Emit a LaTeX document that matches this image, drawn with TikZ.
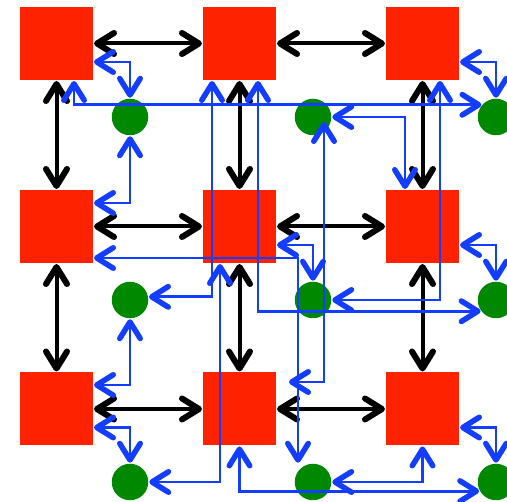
\documentclass[tikz,border=0pt]{standalone}
\usetikzlibrary{arrows.meta}
\definecolor{boxred}{RGB}{255,34,0}
\definecolor{dotgreen}{RGB}{0,136,0}
\definecolor{linkblue}{RGB}{20,62,255}
\begin{document}
\begin{tikzpicture}[x=1pt,y=-1pt,
  box/.style={fill=boxred, minimum size=73pt, inner sep=0pt, outer sep=0pt},
  dot/.style={circle, fill=dotgreen, minimum size=36.5pt, inner sep=0pt, outer sep=0pt},
  barbk/.tip={Straight Barb[length=17pt,width=21pt,line width'=6pt,round]},
  barbb/.tip={Straight Barb[length=16.5pt,width=20.5pt,line width'=5.5pt,round]},
  mainlink/.style={draw=black, line width=4pt, barbk-barbk, shorten <=1pt, shorten >=1pt},
  sidelink/.style={draw=linkblue, line width=2.8pt, barbb-barbb, shorten <=1pt, shorten >=1pt}
]
\useasboundingbox (0,0) rectangle (507,502);
\clip (0,0) rectangle (507,502);

% squares
\foreach \r/\yy in {0/43.5, 1/226.5, 2/409}
  \foreach \c/\xx in {0/56.5, 1/239.5, 2/422.5}
    \node[box] (s\r\c) at (\xx,\yy) {};

% dots
\foreach \r/\yy in {0/117, 1/300, 2/482}
  \foreach \c/\xx in {0/130, 1/313, 2/496}
    \node[dot] (g\r\c) at (\xx,\yy) {};

% links between neighbouring squares
\foreach \r in {0,1,2} {
  \draw[mainlink] (s\r0) -- (s\r1);
  \draw[mainlink] (s\r1) -- (s\r2);
}
\foreach \c in {0,1,2} {
  \draw[mainlink] (s0\c) -- (s1\c);
  \draw[mainlink] (s1\c) -- (s2\c);
}

% square to the dot below-right of it
\foreach \n in {00,02,11,12,20,22}
  \draw[sidelink] ([yshift=-18.5pt]s\n.east) -| (g\n.north);

% square to the dot above-right of it
\draw[sidelink] ([yshift=23.5pt]s10.east) -| (g00.south);
\draw[sidelink] ([yshift=24pt]s20.east) -| (g10.south);

% longer routes
\draw[sidelink] ([xshift=17.5pt]s00.south) |- (g02.138);
\draw[sidelink] (g01.east) -| ([xshift=-17.5pt]s12.north);
\draw[sidelink] (g10.10) -| ([xshift=-27.5pt]s01.south);
\draw[sidelink] ([xshift=18.5pt]s01.south) |- (g12.218);
\draw[sidelink] ([xshift=17.5pt]s02.south) |- (g11.east);
\draw[sidelink, shorten <=0pt, shorten >=13pt] ([xshift=11pt,yshift=-5pt]g01.center) |- ([yshift=27pt]s21.east);
\draw[sidelink] ([yshift=-31.5pt]s10.east) -| ([xshift=-15pt]g21.north);
\draw[sidelink] (g20.east) -| ([xshift=-19.5pt]s11.south);
\draw[sidelink] (s21.south) |- (g22.210);
\draw[sidelink] (g21.east) -| (s22.south);
\end{tikzpicture}
\end{document}
